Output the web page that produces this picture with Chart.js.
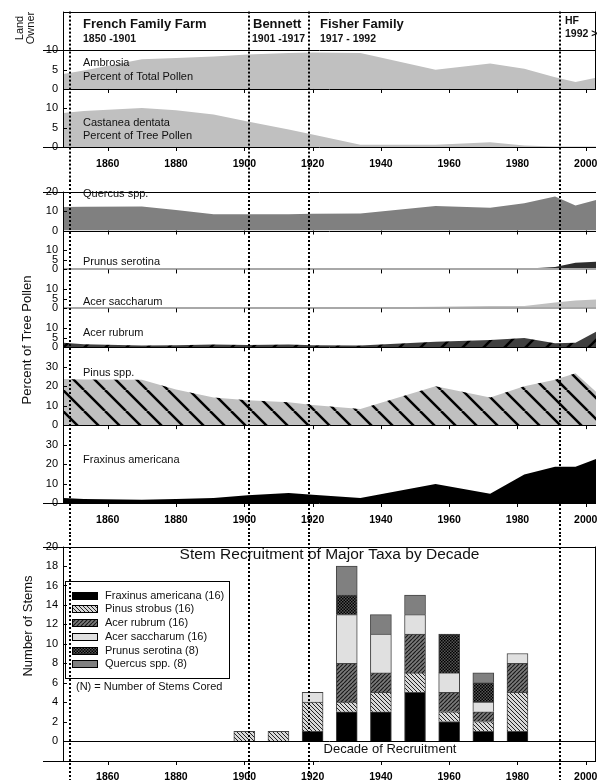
<!DOCTYPE html>
<html>
<head>
<meta charset="utf-8">
<title>Land owners, pollen and stem recruitment</title>
<script src="https://cdn.jsdelivr.net/npm/chart.js"></script>
<style>
  html, body { margin: 0; padding: 0; background: #fff; }
  #page { position: relative; width: 597px; height: 780px; overflow: hidden; }
  #page canvas { position: absolute; left: 0; }
</style>
</head>
<body>
<div id="page">
  <canvas id="topChart" width="597" height="180" style="top:0"></canvas>
  <canvas id="midChart" width="597" height="355" style="top:180px"></canvas>
  <canvas id="barChart" width="597" height="245" style="top:535px"></canvas>
</div>
<script>
// values
const tickYears = [1860, 1880, 1900, 1920, 1940, 1960, 1980, 2000];
const ownerNames = ["French Family Farm", "Bennett", "Fisher Family", "HF"];
const ownerPeriods = ["1850 -1901", "1901 -1917", "1917 - 1992", "1992 >"];
const ownerBreaks = [1849, 1901.3, 1918.9, 1992.6];

const sampleYears = [1847, 1853, 1870, 1880, 1891, 1901, 1913, 1920, 1934, 1956, 1972, 1982, 1991, 1997, 2003];
const ambrosia = [3.9, 4.8, 7.7, 8.0, 8.4, 8.9, 9.3, 9.4, 9.3, 5.0, 6.6, 5.2, 3.0, 1.8, 2.9];
const castanea = [8.8, 9.3, 10.1, 9.5, 8.4, 6.6, 4.5, 3.2, 0.6, 0.6, 1.2, 0.4, 0.15, 0.1, 0.1];
const quercus  = [12.1, 12.2, 12.4, 10.5, 8.3, 8.3, 8.4, 8.6, 8.8, 12.6, 11.7, 14.0, 17.5, 12.9, 15.7];
const prunus   = [0, 0, 0, 0, 0, 0, 0, 0, 0, 0, 0, 0.3, 1.2, 3.5, 4.0];
const acerSac  = [0.3, 0.3, 0.3, 0.3, 0.3, 0.3, 0.3, 0.3, 0.4, 0.8, 1.2, 1.2, 3.0, 4.0, 4.6];
const acerRub  = [2.4, 1.6, 0.9, 1.1, 1.5, 1.2, 1.5, 1.0, 0.9, 2.9, 3.8, 4.8, 2.1, 2.4, 8.0];
const pinus    = [23.7, 23.5, 23.3, 18.3, 14.2, 12.8, 11.8, 10.3, 8.3, 20.0, 14.2, 20.0, 23.3, 26.7, 17.2];
const fraxinus = [2.6, 2.1, 1.7, 2.0, 2.6, 4.0, 5.2, 4.3, 2.6, 9.7, 4.8, 14.7, 18.6, 18.6, 22.6];

const decades = [1900, 1910, 1920, 1930, 1940, 1950, 1960, 1970, 1980];
const stemFraxinus = [0, 0, 1, 3, 3, 5, 2, 1, 1];
const stemPinus    = [1, 1, 3, 1, 2, 2, 1, 1, 4];
const stemAcerRub  = [0, 0, 0, 4, 2, 4, 2, 1, 3];
const stemAcerSac  = [0, 0, 1, 5, 4, 2, 2, 1, 1];
const stemPrunus   = [0, 0, 0, 2, 0, 0, 4, 2, 0];
const stemQuercus  = [0, 0, 0, 3, 2, 2, 0, 1, 0];
const stemLabels = ["Fraxinus americana (16)", "Pinus strobus (16)", "Acer rubrum (16)",
                    "Acer saccharum (16)", "Prunus serotina (8)", "Quercus spp. (8)"];
const stemTicks = [0, 2, 4, 6, 8, 10, 12, 14, 16, 18, 20];

const FONT = '"Liberation Sans", Arial, Helvetica, sans-serif';
const X_MIN = 1846.9, X_MAX = 2003.0;

// fill patterns
function hatch(size, bg, fg, lw, dir) {
  const c = document.createElement("canvas");
  c.width = c.height = size;
  const g = c.getContext("2d");
  g.fillStyle = bg; g.fillRect(0, 0, size, size);
  g.strokeStyle = fg; g.lineWidth = lw;
  for (const o of [-size, 0, size]) {
    g.beginPath();
    if (dir === "down") { g.moveTo(o, 0); g.lineTo(o + size, size); }
    else { g.moveTo(o, size); g.lineTo(o + size, 0); }
    g.stroke();
  }
  return g.createPattern(c, "repeat");
}
function checker(size, a, b) {
  const c = document.createElement("canvas");
  c.width = c.height = size * 2;
  const g = c.getContext("2d");
  g.fillStyle = a; g.fillRect(0, 0, size * 2, size * 2);
  g.fillStyle = b; g.fillRect(0, 0, size, size); g.fillRect(size, size, size, size);
  return g.createPattern(c, "repeat");
}

const pinusFill = hatch(21, "#c0c0c0", "#000", 2.5, "down");
const rubrumFill = hatch(21, "#404040", "#000", 2.5, "up");
const stemPinusFill = hatch(4, "#d8d8d8", "#222", 1, "down");
const stemRubrumFill = hatch(4, "#7a7a7a", "#1a1a1a", 1.2, "up");
const stemPrunusFill = checker(1.5, "#555", "#000");

// helpers
function line(ctx, x1, y1, x2, y2, color, w, dash) {
  ctx.save();
  ctx.strokeStyle = color; ctx.lineWidth = w || 1;
  if (dash) ctx.setLineDash(dash);
  ctx.beginPath(); ctx.moveTo(x1, y1); ctx.lineTo(x2, y2); ctx.stroke();
  ctx.restore();
}
const crisp = v => Math.round(v) + 0.5;
function text(ctx, str, x, y, font, align) {
  ctx.save();
  ctx.font = font; ctx.fillStyle = "#111";
  ctx.textAlign = align || "left"; ctx.textBaseline = "middle";
  ctx.fillText(str, x, y);
  ctx.restore();
}
function vtext(ctx, str, x, y, font) {
  ctx.save();
  ctx.translate(x, y); ctx.rotate(-Math.PI / 2);
  ctx.font = font; ctx.fillStyle = "#111";
  ctx.textAlign = "center"; ctx.textBaseline = "middle";
  ctx.fillText(str, 0, 0);
  ctx.restore();
}
function dotted(chart, y0) {
  const xs = chart.scales.x;
  ownerBreaks.forEach(yr => {
    const px = Math.round(xs.getPixelForValue(yr));
    line(chart.ctx, px, y0, px, chart.height, "#000", 2, [2, 2]);
  });
}
function xTickMarks(chart, ys) {
  const xs = chart.scales.x;
  ys.forEach(y => xs.ticks.forEach(t => {
    const px = crisp(xs.getPixelForValue(t.value));
    line(chart.ctx, px, y, px, y + 4, "#000", 1);
  }));
}
function yTickMarks(chart) {
  const L = chart.chartArea.left;
  Object.values(chart.scales).forEach(s => {
    if (s.axis !== "y") return;
    s.ticks.forEach(t => {
      const py = crisp(s.getPixelForValue(t.value));
      line(chart.ctx, L, py, L + 4, py, "#000", 1);
    });
  });
}

function xAxis(h, pad) {
  return {
    type: "linear", position: "bottom", min: X_MIN, max: X_MAX, offset: false,
    grid: { display: false, drawTicks: false, offset: false }, border: { display: false },
    ticks: { font: { family: FONT, size: 10.5, weight: "bold" }, color: "#000", padding: pad,
             autoSkip: false, maxRotation: 0, callback: v => String(v) },
    afterBuildTicks: s => { s.ticks = tickYears.map(v => ({ value: v })); },
    afterFit: s => { s.height = h; s.paddingLeft = 0; s.paddingRight = 0; }
  };
}
function yAxis(min, max, ticks, weight, stackWeight) {
  return {
    type: "linear", position: "left", stack: "panels", stackWeight: stackWeight, weight: weight,
    min: min, max: max,
    grid: { display: false, drawTicks: false }, border: { display: false },
    ticks: { font: { family: FONT, size: 11 }, color: "#000", padding: 5, autoSkip: false,
             display: ticks.length > 0 },
    afterBuildTicks: s => { s.ticks = ticks.map(v => ({ value: v })); },
    afterFit: s => { s.width = 63; }
  };
}
function area(label, values, axis, fill, border) {
  return {
    label: label, yAxisID: axis,
    data: sampleYears.map((yr, i) => ({ x: yr, y: values[i] })),
    backgroundColor: fill, borderColor: border || fill, borderWidth: border ? 1 : 0,
    fill: "origin", pointRadius: 0, tension: 0
  };
}
const common = {
  responsive: false, animation: false, events: [],
  plugins: { legend: { display: false }, tooltip: { enabled: false } }
};

// ---------- top: owners, Ambrosia, Castanea ----------
const topDecor = {
  id: "topDecor",
  afterDatasetsDraw(chart) {
    const ctx = chart.ctx, s = chart.scales;
    const L = chart.chartArea.left, R = chart.chartArea.right;
    const ow = s.yOwner, am = s.yAmb, ca = s.yCas;
    line(ctx, L, crisp(ow.top), R, crisp(ow.top), "#000", 1);
    line(ctx, L - 20, crisp(ow.bottom), R, crisp(ow.bottom), "#000", 1);
    line(ctx, L, crisp(am.bottom), R, crisp(am.bottom), "#000", 1);
    line(ctx, L - 20, crisp(ca.bottom), R, crisp(ca.bottom), "#000", 1);
    line(ctx, crisp(L), ow.top, crisp(L), ca.bottom, "#000", 1);
    line(ctx, R - 0.5, ow.top, R - 0.5, am.bottom, "#000", 1);
    xTickMarks(chart, [am.bottom, ca.bottom]);
    yTickMarks(chart);

    const pos = [[83, 24, 39], [253, 24, 39], [320, 24, 39], [565, 21, 34]];
    ownerNames.forEach((n, i) => {
      const big = i < 3 ? 13 : 10.5;
      text(ctx, n, pos[i][0], pos[i][1], "bold " + big + "px " + FONT);
      text(ctx, ownerPeriods[i], pos[i][0] - (i === 1 ? 1 : 0), pos[i][2], "bold 10.5px " + FONT);
    });
    const f = "11px " + FONT;
    text(ctx, "Ambrosia", 83, 63, f);
    text(ctx, "Percent of Total Pollen", 83, 77, f);
    text(ctx, "Castanea dentata", 83, 123, f);
    text(ctx, "Percent of Tree Pollen", 83, 136, f);
    vtext(ctx, "Land", 20, 28, f);
    vtext(ctx, "Owner", 31, 28, f);
    dotted(chart, ow.top);
  }
};

new Chart(document.getElementById("topChart"), {
  type: "line",
  data: { datasets: [
    area("Ambrosia", ambrosia, "yAmb", "#c0c0c0"),
    area("Castanea dentata", castanea, "yCas", "#c0c0c0")
  ] },
  options: Object.assign({}, common, {
    layout: { padding: { top: 8, left: 0, right: 1, bottom: 0 } },
    scales: {
      x: xAxis(33, 11),
      yOwner: yAxis(0, 10, [], 3, 10),
      yAmb: yAxis(0, 10, [0, 5, 10], 2, 10),
      yCas: yAxis(0, 15, [0, 5, 10], 1, 15)
    }
  }),
  plugins: [topDecor]
});

// ---------- middle: tree pollen panels ----------
const midDecor = {
  id: "midDecor",
  afterDatasetsDraw(chart) {
    const ctx = chart.ctx, s = chart.scales;
    const L = chart.chartArea.left, R = chart.chartArea.right;
    line(ctx, L - 20, crisp(s.yQue.top), R, crisp(s.yQue.top), "#000", 1);
    line(ctx, L, crisp(s.yQue.bottom), R, crisp(s.yQue.bottom), "#000", 1);
    line(ctx, L, Math.round(s.yPru.bottom), R, Math.round(s.yPru.bottom), "#a8a8a8", 2);
    line(ctx, L, Math.round(s.yAcs.bottom), R, Math.round(s.yAcs.bottom), "#a8a8a8", 2);
    line(ctx, L, crisp(s.yAcr.bottom), R, crisp(s.yAcr.bottom), "#000", 1);
    line(ctx, L, crisp(s.yPin.bottom), R, crisp(s.yPin.bottom), "#000", 1);
    line(ctx, L - 20, crisp(s.yFra.bottom), R, crisp(s.yFra.bottom), "#000", 1);
    line(ctx, crisp(L), s.yQue.top, crisp(L), s.yFra.bottom, "#000", 1);
    xTickMarks(chart, [s.yQue.bottom, s.yPru.bottom, s.yAcs.bottom, s.yAcr.bottom, s.yPin.bottom, s.yFra.bottom]);
    yTickMarks(chart);

    const f = "11px " + FONT;
    text(ctx, "Quercus spp.", 83, 14, f);
    text(ctx, "Prunus serotina", 83, 82, f);
    text(ctx, "Acer saccharum", 83, 121.5, f);
    text(ctx, "Acer rubrum", 83, 153, f);
    text(ctx, "Pinus spp.", 83, 192.5, f);
    text(ctx, "Fraxinus americana", 83, 280, f);
    vtext(ctx, "Percent of Tree Pollen", 27, 160, "13px " + FONT);
    dotted(chart, 0);
  }
};

new Chart(document.getElementById("midChart"), {
  type: "line",
  data: { datasets: [
    area("Quercus spp.", quercus, "yQue", "#808080"),
    area("Prunus serotina", prunus, "yPru", "#2e2e2e"),
    area("Acer saccharum", acerSac, "yAcs", "#c0c0c0"),
    area("Acer rubrum", acerRub, "yAcr", rubrumFill),
    area("Pinus spp.", pinus, "yPin", pinusFill),
    area("Fraxinus americana", fraxinus, "yFra", "#000")
  ] },
  options: Object.assign({}, common, {
    layout: { padding: { top: 6, left: 0, right: 1, bottom: 0 } },
    scales: {
      x: xAxis(32, 11),
      yQue: yAxis(0, 20, [0, 10, 20], 6, 20),
      yPru: yAxis(0, 20, [0, 5, 10], 5, 20),
      yAcs: yAxis(0, 20, [0, 5, 10], 4, 20),
      yAcr: yAxis(0, 20, [0, 5, 10], 3, 20),
      yPin: yAxis(0, 40, [0, 10, 20, 30], 2, 40),
      yFra: yAxis(0, 40, [0, 10, 20, 30], 1, 40)
    }
  }),
  plugins: [midDecor]
});

// ---------- bottom: stem recruitment ----------
function stemSet(label, values, fill) {
  return {
    label: label,
    data: decades.map((d, i) => ({ x: d, y: values[i] || null })),
    backgroundColor: fill, borderColor: "#444", borderWidth: 1,
    barThickness: 21
  };
}

const barDecor = {
  id: "barDecor",
  afterDatasetsDraw(chart) {
    const ctx = chart.ctx, ys = chart.scales.y;
    const { left: L, right: R, top: T, bottom: B } = chart.chartArea;
    line(ctx, L - 20, crisp(T), R, crisp(T), "#000", 1);
    line(ctx, L - 20, crisp(B), R, crisp(B), "#000", 1);
    line(ctx, crisp(L), T, crisp(L), B, "#000", 1);
    line(ctx, R - 0.5, T, R - 0.5, B, "#000", 1);
    const zero = crisp(ys.getPixelForValue(0));
    line(ctx, L, zero, R, zero, "#000", 1);
    xTickMarks(chart, [B]);
    yTickMarks(chart);

    text(ctx, "Stem Recruitment of Major Taxa by Decade", (L + R) / 2, 20, "15.5px " + FONT, "center");
    text(ctx, "Decade of Recruitment", 390, 214, "13px " + FONT, "center");
    vtext(ctx, "Number of Stems", 28, 91, "13px " + FONT);

    // legend box
    ctx.save();
    ctx.strokeStyle = "#000"; ctx.lineWidth = 1;
    ctx.strokeRect(65.5, 46.5, 164, 97);
    chart.data.datasets.forEach((ds, i) => {
      const cy = 60.7 + i * 13.7;
      ctx.fillStyle = ds.backgroundColor;
      ctx.fillRect(72, Math.round(cy - 4), 26, 8);
      ctx.strokeStyle = "#000";
      ctx.strokeRect(72.5, Math.round(cy - 4) + 0.5, 25, 7);
      text(ctx, stemLabels[i], 105, cy, "11px " + FONT);
    });
    ctx.restore();
    text(ctx, "(N) = Number of Stems Cored", 76, 152, "11px " + FONT);
    dotted(chart, 0);
  }
};

new Chart(document.getElementById("barChart"), {
  type: "bar",
  data: { datasets: [
    stemSet("Fraxinus americana", stemFraxinus, "#000"),
    stemSet("Pinus strobus", stemPinus, stemPinusFill),
    stemSet("Acer rubrum", stemAcerRub, stemRubrumFill),
    stemSet("Acer saccharum", stemAcerSac, "#e0e0e0"),
    stemSet("Prunus serotina", stemPrunus, stemPrunusFill),
    stemSet("Quercus spp.", stemQuercus, "#808080")
  ] },
  options: Object.assign({}, common, {
    layout: { padding: { top: 8, left: 0, right: 1, bottom: 0 } },
    scales: {
      x: Object.assign(xAxis(19, 10), { stacked: true }),
      y: {
        type: "linear", position: "left", stacked: true, min: -2.06, max: 20,
        grid: { display: false, drawTicks: false }, border: { display: false },
        ticks: { font: { family: FONT, size: 11 }, color: "#000", padding: 5, autoSkip: false },
        afterBuildTicks: s => { s.ticks = stemTicks.map(v => ({ value: v })); },
        afterFit: s => { s.width = 63; }
      }
    }
  }),
  plugins: [barDecor]
});
</script>
</body>
</html>
